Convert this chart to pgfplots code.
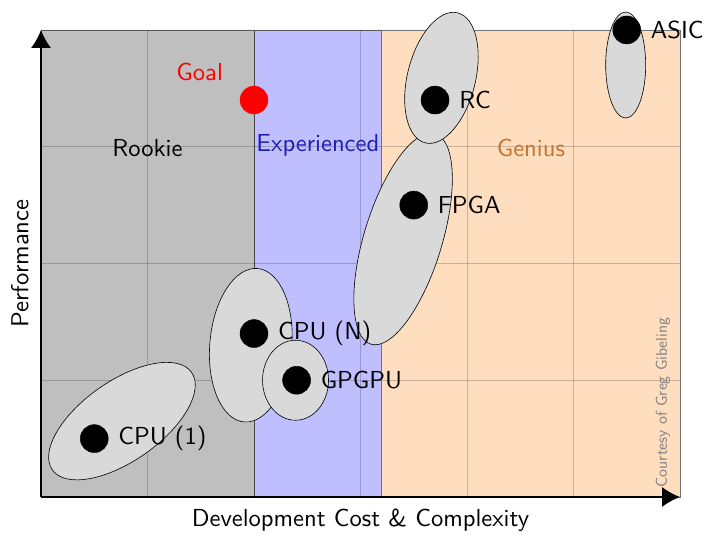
\documentclass[border=0pt]{standalone}
\usepackage{fontspec}
\setsansfont{lmsans10-regular.otf}
\usepackage{pgfplots}
\pgfplotsset{compat=1.18}
\usepackage{pgfplotstable}
\usetikzlibrary{arrows.meta,shapes.geometric}

\definecolor{rookiefill}{RGB}{191,191,191}
\definecolor{expfill}{RGB}{191,191,255}
\definecolor{geniusfill}{RGB}{255,222,191}
\definecolor{exptext}{RGB}{30,30,180}
\definecolor{geniustext}{RGB}{200,115,45}
\definecolor{blobfill}{RGB}{217,217,217}

\newcommand{\bigsf}{\fontsize{24.6}{30}\selectfont\sffamily}

% technologies: cost vs performance
\pgfplotstableread{
x y name
0.5 0.5 {CPU (1)}
2.0 1.4 {CPU (N)}
2.4 1.0 GPGPU
3.5 2.5 FPGA
3.7 3.4 RC
5.5 4.0 ASIC
}\techs

\begin{document}
\begin{tikzpicture}
\begin{axis}[
    scale only axis,
    width=639pt, height=467pt,
    xmin=0, xmax=6, ymin=0, ymax=4,
    axis lines=left,
    axis line style={line width=1.3pt, -{Latex[length=18pt,width=20pt]}},
    xtick={1,...,5}, ytick={1,2,3},
    xticklabels={}, yticklabels={},
    major tick length=0pt,
    grid=major,
    grid style={black, opacity=0.2, line width=0.8pt},
    set layers,
    clip=false,
    xlabel={Development Cost \& Complexity},
    ylabel={Performance},
    label style={font=\bigsf},
    xlabel style={at={(axis description cs:0.5,-0.05)}, anchor=center},
    ylabel style={at={(axis description cs:-0.033,0.5)}, anchor=center},
]
% skill regions
\addplot[on layer=axis background, fill=rookiefill, draw=black!65, line width=0.8pt]
    coordinates {(0,0) (2,0) (2,4) (0,4) (0,0)};
\addplot[on layer=axis background, fill=expfill, draw=black!65, line width=0.8pt]
    coordinates {(2,0) (3.2,0) (3.2,4) (2,4) (2,0)};
\addplot[on layer=axis background, fill=geniusfill, draw=black!55, line width=0.8pt]
    coordinates {(3.2,0) (6,0) (6,4) (3.2,4) (3.2,0)};

\node[font=\bigsf] at (1.0,2.99) {Rookie};
\node[font=\bigsf, text=exptext] at (2.6,3.01) {Experienced};
\node[font=\bigsf, text=geniustext] at (4.6,2.99) {Genius};
\node[font=\bigsf, text=red] at (1.49,3.64) {Goal};
\node[rotate=90, text=black!50, font=\fontsize{15.7}{18}\selectfont\sffamily]
    at (5.84,0.81) {Courtesy of Greg Gibeling};

% blobs
\tikzset{blob/.style={ellipse, draw=black, line width=0.6pt, fill=blobfill, inner sep=0pt}}
\node[blob, minimum width=170pt, minimum height=80pt, rotate=35] at (0.76,0.65) {};
\node[blob, minimum width=82pt, minimum height=154pt, rotate=-5] at (1.97,1.30) {};
\node[blob, minimum width=66pt, minimum height=80pt] at (2.39,1.0) {};
\node[blob, minimum width=220pt, minimum height=78pt, rotate=73] at (3.40,2.21) {};
\node[blob, minimum width=134pt, minimum height=68pt, rotate=76] at (3.76,3.59) {};
\node[blob, minimum width=40pt, minimum height=106pt] at (5.49,3.70) {};

\addplot[only marks, mark=*, mark size=14pt, black,
    nodes near coords, point meta=explicit symbolic,
    nodes near coords style={anchor=west, xshift=24pt, inner sep=0pt, font=\bigsf, text=black}]
    table[x=x, y=y, meta=name] {\techs};

\addplot[only marks, mark=*, mark size=14pt, red] coordinates {(2,3.4)};
\end{axis}
\path (-41pt,-43pt) rectangle (679pt,497pt);
\end{tikzpicture}
\end{document}
